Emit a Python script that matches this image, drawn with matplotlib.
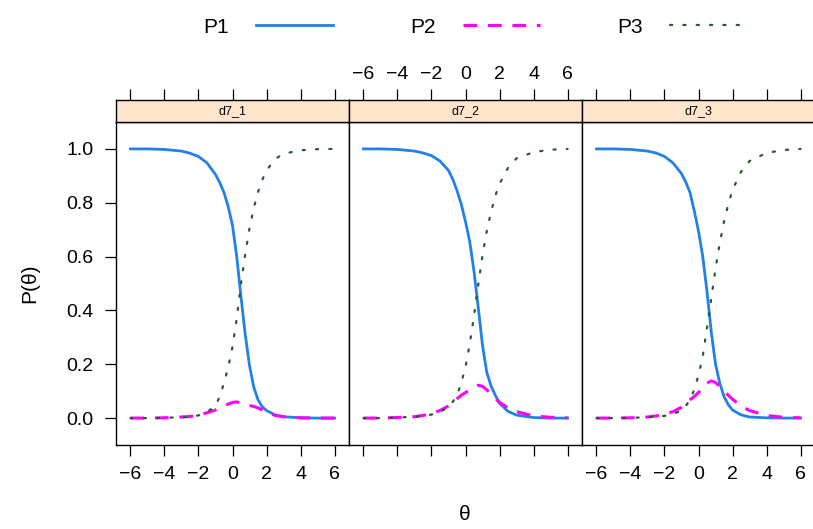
import numpy as np
import matplotlib
matplotlib.use("Agg")
import matplotlib.pyplot as plt
from matplotlib.lines import Line2D

plt.rcParams['font.family'] = ['Liberation Sans', 'DejaVu Sans']

# theta grid the curves were read at
theta = [-6, -5, -4, -3, -2.5, -2, -1.5, -1, -0.75, -0.5, -0.25, 0, 0.25, 0.5,
         0.75, 1, 1.25, 1.5, 1.75, 2, 2.5, 3, 4, 5, 6]

items = ["d7_1", "d7_2", "d7_3"]

# d7_1
p1_d7_1 = [1.0, 1.0, 0.998, 0.992, 0.984, 0.972, 0.948, 0.905, 0.875, 0.838, 0.785, 0.715,
           0.60, 0.45, 0.31, 0.195, 0.115, 0.068, 0.042, 0.028, 0.012, 0.005, 0.001, 0.0, 0.0]
p2_d7_1 = [0.0, 0.0, 0.001, 0.004, 0.006, 0.01, 0.02, 0.03, 0.038, 0.045, 0.052, 0.058,
           0.06, 0.057, 0.052, 0.047, 0.043, 0.038, 0.03, 0.022, 0.01, 0.005, 0.001, 0.0, 0.0]
p3_d7_1 = [0.0, 0.0, 0.001, 0.003, 0.005, 0.01, 0.022, 0.046, 0.08, 0.13, 0.19, 0.265,
           0.37, 0.50, 0.61, 0.705, 0.78, 0.84, 0.885, 0.92, 0.962, 0.982, 0.995, 0.999, 1.0]

# d7_2
p1_d7_2 = [1.0, 1.0, 0.998, 0.992, 0.985, 0.975, 0.955, 0.92, 0.888, 0.845, 0.795, 0.73,
           0.655, 0.545, 0.41, 0.27, 0.17, 0.12, 0.085, 0.055, 0.025, 0.011, 0.002, 0.0, 0.0]
p2_d7_2 = [0.0, 0.0, 0.002, 0.005, 0.01, 0.017, 0.028, 0.045, 0.058, 0.072, 0.085, 0.095,
           0.105, 0.115, 0.122, 0.118, 0.105, 0.09, 0.074, 0.058, 0.038, 0.024, 0.008, 0.003, 0.001]
p3_d7_2 = [0.0, 0.0, 0.002, 0.005, 0.008, 0.013, 0.022, 0.042, 0.06, 0.085, 0.13, 0.19,
           0.275, 0.38, 0.495, 0.605, 0.695, 0.765, 0.825, 0.87, 0.93, 0.965, 0.988, 0.997, 1.0]

# d7_3
p1_d7_3 = [1.0, 1.0, 0.998, 0.992, 0.985, 0.972, 0.948, 0.908, 0.877, 0.838, 0.77, 0.695,
           0.60, 0.47, 0.32, 0.20, 0.13, 0.08, 0.05, 0.03, 0.012, 0.004, 0.001, 0.0, 0.0]
p2_d7_3 = [0.0, 0.0, 0.001, 0.004, 0.008, 0.014, 0.024, 0.04, 0.054, 0.068, 0.08, 0.095,
           0.112, 0.13, 0.138, 0.132, 0.118, 0.10, 0.085, 0.07, 0.045, 0.028, 0.01, 0.003, 0.001]
p3_d7_3 = [0.0, 0.0, 0.001, 0.003, 0.005, 0.008, 0.015, 0.028, 0.045, 0.068, 0.105, 0.16,
           0.23, 0.335, 0.445, 0.555, 0.65, 0.73, 0.795, 0.848, 0.915, 0.955, 0.985, 0.996, 1.0]

curves = {
    "d7_1": (p1_d7_1, p2_d7_1, p3_d7_1),
    "d7_2": (p1_d7_2, p2_d7_2, p3_d7_2),
    "d7_3": (p1_d7_3, p2_d7_3, p3_d7_3),
}
cat_labels = ["P1", "P2", "P3"]

xticks = [-6, -4, -2, 0, 2, 4, 6]
yticks = [0.0, 0.2, 0.4, 0.6, 0.8, 1.0]

col = ["#2281e8", "#ff00ff", "#2d5a2d"]
lsty = ["-", (0, (4.5, 3.5)), (0, (1, 5))]
lwid = [2.0, 2.2, 1.6]

W, H = 813, 529
fig = plt.figure(figsize=(W / 100, H / 100), dpi=100)

pw = 233
left0 = 116
ptop, pbot = 122, 445
stop = 100
xl = (-6.85, 6.85)

for i, it in enumerate(items):
    x0 = left0 + i * pw
    ax = fig.add_axes([x0 / W, 1 - pbot / H, pw / W, (pbot - ptop) / H])
    for k in range(3):
        ax.plot(theta, curves[it][k], color=col[k], ls=lsty[k], lw=lwid[k],
                dash_capstyle='round' if k == 2 else 'butt')
    ax.set_xlim(*xl)
    ax.set_ylim(-0.1, 1.1)
    ax.set_xticks(xticks)
    ax.set_yticks(yticks)
    ax.set_yticklabels(["%.1f" % v for v in yticks])
    ax.tick_params(direction='out', length=8, width=0.9, labelsize=14,
                   colors='black')
    ax.tick_params(axis='x', top=False, labelbottom=(i != 1), pad=7)
    ax.tick_params(axis='y', left=(i == 0), labelleft=(i == 0),
                   right=(i == 2), labelright=False, pad=8)
    for s in ax.spines.values():
        s.set_linewidth(1.0)
        s.set_color('black')

    # strip with the panel name
    sx = fig.add_axes([x0 / W, 1 - ptop / H, pw / W, (ptop - stop) / H])
    sx.set_facecolor("#ffe5cc")
    sx.set_xlim(*xl)
    sx.set_ylim(0, 1)
    sx.set_xticks(xticks)
    sx.set_yticks([])
    sx.tick_params(axis='x', bottom=False, labelbottom=False, top=True,
                   labeltop=(i == 1), direction='out', length=8, width=0.9,
                   labelsize=14, pad=4)
    for s in sx.spines.values():
        s.set_linewidth(1.0)
        s.set_color('black')
    sx.text(0.5, 0.5, it, transform=sx.transAxes, ha='center', va='center',
            fontsize=9)

fig.text(30 / W, 1 - 283 / H, "P(θ)", rotation=90, ha='center', va='center',
         fontsize=15)
fig.text(465 / W, 1 - 515 / H, "θ", ha='center', va='center', fontsize=15)

handles = [Line2D([], [], color=col[k], ls=lsty[k], lw=lwid[k],
                  dash_capstyle='round' if k == 2 else 'butt') for k in range(3)]
fig.legend(handles, cat_labels, loc='center', bbox_to_anchor=(475 / W, 1 - 27 / H),
           ncol=3, frameon=False, markerfirst=False, fontsize=15,
           handlelength=3.7, handletextpad=1.3, columnspacing=3.7)

fig.savefig("out.png", dpi=100)
